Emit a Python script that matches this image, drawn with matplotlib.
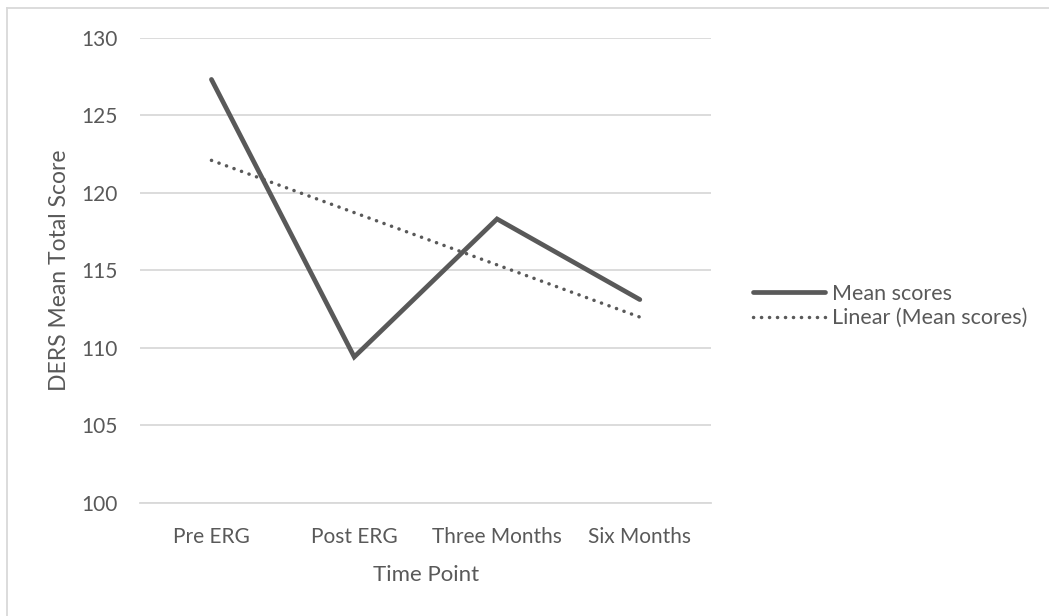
import numpy as np
import matplotlib
matplotlib.use('Agg')
import matplotlib.pyplot as plt
from matplotlib.lines import Line2D

# DERS mean total score at each time point
time_points = ['Pre ERG', 'Post ERG', 'Three Months', 'Six Months']
mean_scores = [127.3, 109.4, 118.3, 113.1]

y_ticks = [100, 105, 110, 115, 120, 125, 130]

grey_txt = '#595959'
grid_col = '#d9d9d9'

plt.rcParams['font.family'] = ['Lato', 'DejaVu Sans']

fig = plt.figure(figsize=(10.49, 6.16), dpi=100)
ax = fig.add_axes([0.1335, 0.184, 0.5445, 0.755])

x = np.arange(len(time_points))

#---> linear trendline through the mean scores
slope, icpt = np.polyfit(x, mean_scores, 1)
trend = slope * x + icpt

ax.plot(x, mean_scores, color=grey_txt, linewidth=3.4, solid_capstyle='round',
        solid_joinstyle='miter', label='Mean scores', zorder=3)
ax.plot(x, trend, color=grey_txt, linewidth=2.5, linestyle=(0, (0.05, 2.25)),
        dash_capstyle='round', label='Linear (Mean scores)', zorder=4)

ax.set_xlim(-0.5, len(time_points) - 0.5)
ax.set_ylim(100, 130)
ax.set_xticks(x)
ax.set_xticklabels(time_points)
ax.set_yticks(y_ticks)

ax.yaxis.grid(True, color=grid_col, linewidth=1.3)
ax.set_axisbelow(True)
for s in ['top', 'right', 'left']:
	ax.spines[s].set_visible(False)
ax.spines['bottom'].set_color(grid_col)
ax.spines['bottom'].set_linewidth(1.3)

ax.tick_params(axis='both', length=0, labelsize=15, colors=grey_txt)
ax.tick_params(axis='x', pad=17.5)
ax.tick_params(axis='y', pad=16)

ax.set_xlabel('Time Point', fontsize=16, color=grey_txt, labelpad=13)
ax.set_ylabel('DERS Mean Total Score', fontsize=16.5, color=grey_txt, labelpad=8)

leg = fig.legend(loc='center left', bbox_to_anchor=(0.718, 0.503), frameon=False,
                 fontsize=15.5, handlelength=3.35, handletextpad=0.33, labelspacing=0.2,
                 borderpad=0, borderaxespad=0)
for t in leg.get_texts():
	t.set_color(grey_txt)

# chart area border (top and left edges)
fig.add_artist(Line2D([7 / 1049, 7 / 1049], [0, 1 - 8 / 616], transform=fig.transFigure,
                      color=grid_col, linewidth=1.3))
fig.add_artist(Line2D([7 / 1049, 1], [1 - 8 / 616, 1 - 8 / 616], transform=fig.transFigure,
                      color=grid_col, linewidth=1.3))

fig.savefig('out.png', dpi=100)
